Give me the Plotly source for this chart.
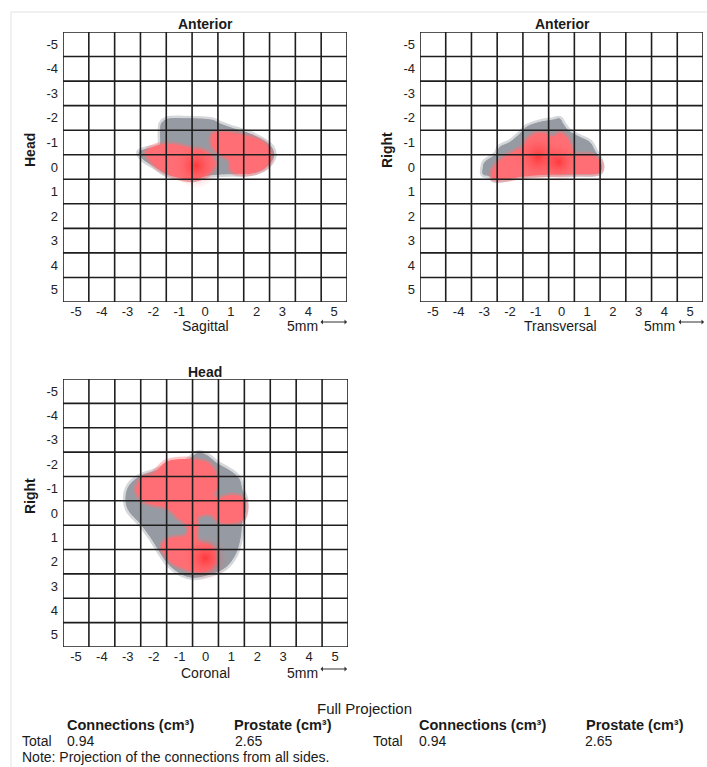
import plotly.graph_objects as go

W, H = 707, 767

# ---------------- data ----------------
ticks = [-5, -4, -3, -2, -1, 0, 1, 2, 3, 4, 5]
tick_labels = ["-5", "-4", "-3", "-2", "-1", "0", "1", "2", "3", "4", "5"]

# Sagittal projection (mm)
sag_gray_x = [-1.69, -1.5, -0.85, 0.3, 0.57, 1.1, 1.73, 2.24, 2.57, 2.66, 2.37, 2.0, 1.36, 0.97,
              0.05, -0.46, -0.98, -1.5, -2.0, -2.4, -2.55, -2.26, -1.76, -1.72]
sag_gray_y = [-1.76, -1.93, -1.97, -1.9, -1.76, -1.56, -1.35, -1.08, -0.8, -0.46, 0.0, 0.2, 0.27, 0.27,
              0.34, 0.5, 0.41, 0.28, -0.06, -0.33, -0.6, -0.73, -0.87, -1.35]
sag_red_a_x = [-2.28, -2.02, -1.5, -0.98, -0.47, -0.08, 0.24, 0.37, 0.17, -0.2, -0.6, -1.1, -1.63, -2.0]
sag_red_a_y = [-0.59, -0.8, -0.92, -0.87, -0.73, -0.66, -0.46, -0.12, 0.23, 0.43, 0.5, 0.4, 0.16, -0.12]
sag_red_b_x = [0.31, 0.83, 1.48, 2.13, 2.45, 2.55, 2.39, 2.0, 1.48, 1.03, 0.97, 0.58, 0.31, 0.24]
sag_red_b_y = [-1.35, -1.42, -1.28, -1.08, -0.8, -0.39, -0.05, 0.18, 0.27, 0.16, -0.25, -0.53, -0.8, -1.08]
sag_hot_x = [-0.35]
sag_hot_y = [-0.05]

# Transversal projection (mm)
tra_gray_x = [-3.04, -2.98, -2.53, -2.4, -2.01, -1.62, -1.36, -0.84, -0.33, -0.07, 0.06, 0.26, 0.71,
              1.1, 1.29, 1.45, 1.55, 1.48, 0.58, -0.59, -1.62, -2.27, -2.66, -2.78, -3.04]
tra_gray_y = [0.02, -0.19, -0.53, -0.8, -1.0, -1.34, -1.62, -1.82, -1.91, -1.96, -1.75, -1.48, -1.21,
              -1.0, -0.66, -0.39, 0.02, 0.22, 0.29, 0.29, 0.36, 0.5, 0.5, 0.36, 0.29]
tra_red_x = [-2.72, -2.66, -2.4, -1.88, -1.5, -1.3, -0.97, -0.59, -0.33, -0.07, 0.19, 0.38, 0.5,
             1.09, 1.42, 1.55, 1.42, 0.58, -0.59, -1.62, -2.27, -2.6]
tra_red_y = [0.36, 0.09, -0.25, -0.6, -0.8, -1.14, -1.37, -1.34, -1.21, -1.38, -1.21, -0.8, -0.53,
             -0.5, -0.32, 0.02, 0.22, 0.26, 0.29, 0.39, 0.5, 0.5]
tra_hot_x = [-0.9, -0.1]
tra_hot_y = [-0.4, -0.2]

# Coronal projection (mm)
cor_gray_x = [-0.27, 0.05, 0.44, 0.89, 1.28, 1.41, 1.54, 1.54, 1.41, 1.35, 1.15, 0.76, 0.18, -0.46,
              -0.92, -1.43, -1.82, -2.14, -2.53, -2.98, -3.07, -2.92, -2.53, -2.01, -1.43, -0.85, -0.59]
cor_gray_y = [-2.46, -2.36, -2.03, -1.76, -1.42, -0.95, -0.54, -0.14, 0.34, 0.95, 1.69, 2.23, 2.5, 2.64,
              2.5, 2.09, 1.49, 0.95, 0.41, -0.14, -0.68, -1.15, -1.49, -1.69, -1.92, -2.03, -2.23]
cor_red_x = [-2.66, -2.47, -2.01, -1.5, -0.98, -0.33, 0.12, 0.38, 0.44, 0.31, 0.5, 0.96, 1.41, 1.54,
             1.41, 0.96, 0.5, 0.25, -0.14, -0.35, -0.33, -0.36, -0.21, 0.12, 0.35, 0.38, 0.25, -0.08,
             -0.53, -0.92, -1.3, -1.56, -1.69, -1.56, -1.24, -0.79, -0.66, -0.79, -1.05, -1.3, -1.63,
             -2.01, -2.47]
cor_red_y = [-0.95, -1.42, -1.62, -2.09, -2.19, -2.16, -2.03, -1.62, -1.08, -0.74, -0.6, -0.72, -0.63,
             -0.27, 0.27, 0.41, 0.34, 0.07, 0.07, 0.25, 0.6, 0.95, 1.22, 1.3, 1.55, 1.89, 2.23, 2.4,
             2.38, 2.23, 2.03, 1.69, 1.42, 1.15, 1.01, 0.95, 0.68, 0.41, 0.2, -0.07, -0.27, -0.34, -0.54]
cor_hot_x = [0.0]
cor_hot_y = [1.85]

# table
table_title = "Full Projection"
col_headers = ["Connections (cm³)", "Prostate (cm³)", "Connections (cm³)", "Prostate (cm³)"]
row_label = "Total"
connections_total = [0.94, 0.94]
prostate_total = [2.65, 2.65]
note_text = "Note: Projection of the connections from all sides."

# ---------------- style ----------------
FONT = "Arial, Liberation Sans, sans-serif"
GRAY = "rgb(150,155,163)"
GRAY_SOFT = "rgba(150,155,163,0.4)"
RED = "rgb(255,110,116)"
RED_SOFT = "rgba(255,110,116,0.4)"
GRID = "#1e1e1e"

panels = [
    dict(ax="x", ay="y", xp=(63, 347), yp=(32, 302)),
    dict(ax="x2", ay="y2", xp=(420, 703), yp=(32, 302)),
    dict(ax="x3", ay="y3", xp=(63, 348), yp=(379, 647)),
]


def px(x):
    return x / W


def py(y):
    return 1 - y / H


fig = go.Figure()


def blob(xs, ys, color, soft, axis):
    xa, ya = axis
    xs_c = list(xs) + [xs[0]]
    ys_c = list(ys) + [ys[0]]
    fig.add_trace(go.Scatter(x=xs_c, y=ys_c, xaxis=xa, yaxis=ya, mode="lines", fill="toself",
                             fillcolor=soft, line=dict(color=soft, width=6, shape="spline"),
                             hoverinfo="skip", showlegend=False))
    fig.add_trace(go.Scatter(x=xs_c, y=ys_c, xaxis=xa, yaxis=ya, mode="lines", fill="toself",
                             fillcolor=color, line=dict(color=color, width=1, shape="spline"),
                             hoverinfo="skip", showlegend=False))


def hot(xs, ys, sizes, axis):
    xa, ya = axis
    fig.add_trace(go.Scatter(x=xs, y=ys, xaxis=xa, yaxis=ya, mode="markers",
                             marker=dict(size=sizes, color="rgba(255,110,116,0)",
                                         gradient=dict(type="radial", color="rgba(255,0,0,0.7)"),
                                         line=dict(width=0)),
                             hoverinfo="skip", showlegend=False))


# Sagittal
blob(sag_gray_x, sag_gray_y, GRAY, GRAY_SOFT, ("x", "y"))
blob(sag_red_a_x, sag_red_a_y, RED, RED_SOFT, ("x", "y"))
blob(sag_red_b_x, sag_red_b_y, RED, RED_SOFT, ("x", "y"))
hot(sag_hot_x, sag_hot_y, [46], ("x", "y"))
# Transversal
blob(tra_gray_x, tra_gray_y, GRAY, GRAY_SOFT, ("x2", "y2"))
blob(tra_red_x, tra_red_y, RED, RED_SOFT, ("x2", "y2"))
hot(tra_hot_x, tra_hot_y, [50, 40], ("x2", "y2"))
# Coronal
blob(cor_gray_x, cor_gray_y, GRAY, GRAY_SOFT, ("x3", "y3"))
blob(cor_red_x, cor_red_y, RED, RED_SOFT, ("x3", "y3"))
hot(cor_hot_x, cor_hot_y, [46], ("x3", "y3"))

# axes
layout_axes = {}
bounds = [t - 0.5 for t in ticks] + [ticks[-1] + 0.5]
shapes = []
for i, p in enumerate(panels):
    sfx = "" if i == 0 else str(i + 1)
    common = dict(tickmode="array", tickvals=ticks, ticktext=tick_labels, showgrid=False,
                  zeroline=False, showline=False, ticks="", fixedrange=True,
                  tickfont=dict(family=FONT, size=13, color="#222"))
    layout_axes["xaxis" + sfx] = dict(common, domain=[px(p["xp"][0]), px(p["xp"][1])],
                                      range=[bounds[0], bounds[-1]], anchor="y" + sfx)
    layout_axes["yaxis" + sfx] = dict(common, domain=[py(p["yp"][1]), py(p["yp"][0])],
                                      range=[bounds[-1], bounds[0]], anchor="x" + sfx,
                                      ticklabelstandoff=4)
    for b in bounds:
        shapes.append(dict(type="line", xref=p["ax"], yref=p["ay"], x0=b, x1=b,
                           y0=bounds[0], y1=bounds[-1], line=dict(color=GRID, width=1.6), layer="above"))
        shapes.append(dict(type="line", xref=p["ax"], yref=p["ay"], y0=b, y1=b,
                           x0=bounds[0], x1=bounds[-1], line=dict(color=GRID, width=1.6), layer="above"))

# page frame
shapes.append(dict(type="line", xref="paper", yref="paper", x0=px(11), x1=1, y0=py(12), y1=py(12),
                   line=dict(color="#e2e2e2", width=1)))
shapes.append(dict(type="line", xref="paper", yref="paper", x0=px(11), x1=px(11), y0=py(12), y1=0,
                   line=dict(color="#e2e2e2", width=1)))

annotations = []


def ann(text, x, y, size=14, bold=False, angle=0, xanchor="center", color="#1a1a1a"):
    annotations.append(dict(text=("<b>%s</b>" % text) if bold else text, x=px(x), y=py(y),
                            xref="paper", yref="paper", showarrow=False, xanchor=xanchor,
                            yanchor="middle", textangle=angle,
                            font=dict(family=FONT, size=size, color=color)))


def scale_bar(x0, x1, y):
    annotations.append(dict(x=px(x1), y=py(y), ax=-(x1 - x0), ay=0, xref="paper", yref="paper",
                            axref="pixel", ayref="pixel", text="", showarrow=True,
                            arrowhead=1, arrowside="end+start", arrowsize=0.7, arrowwidth=1.2,
                            arrowcolor="#333"))


# panel texts
ann("Anterior", 205, 24, 14, True)
ann("Head", 30, 150, 14, True, -90)
ann("Sagittal", 205, 326, 14)
ann("5mm", 302, 326, 14)
scale_bar(319, 347, 322)

ann("Anterior", 562, 24, 14, True)
ann("Right", 387, 150, 14, True, -90)
ann("Transversal", 560, 326, 14)
ann("5mm", 659, 326, 14)
scale_bar(677, 704, 322)

ann("Head", 205, 372, 14, True)
ann("Right", 30, 496, 14, True, -90)
ann("Coronal", 205, 673, 14)
ann("5mm", 302, 673, 14)
scale_bar(319, 347, 669)

# table
ann(table_title, 365, 708, 15)
header_x = [65, 232, 417, 584]
for hx, h in zip(header_x, col_headers):
    ann(h, hx, 725, 14.5, True, xanchor="left")
ann(row_label, 20, 741, 14, xanchor="left")
ann(row_label, 371, 741, 14, xanchor="left")
ann("%.2f" % connections_total[0], 65, 741, 14, xanchor="left")
ann("%.2f" % prostate_total[0], 233, 741, 14, xanchor="left")
ann("%.2f" % connections_total[1], 417, 741, 14, xanchor="left")
ann("%.2f" % prostate_total[1], 583, 741, 14, xanchor="left")
ann(note_text, 20, 757, 14, xanchor="left")

fig.update_layout(width=W, height=H, margin=dict(l=0, r=0, t=0, b=0),
                  paper_bgcolor="white", plot_bgcolor="white", showlegend=False,
                  shapes=shapes, annotations=annotations, **layout_axes)

fig.write_html("out.html", config={"displayModeBar": False},
               post_script="document.body.style.margin='0';document.body.style.overflow='hidden';")
